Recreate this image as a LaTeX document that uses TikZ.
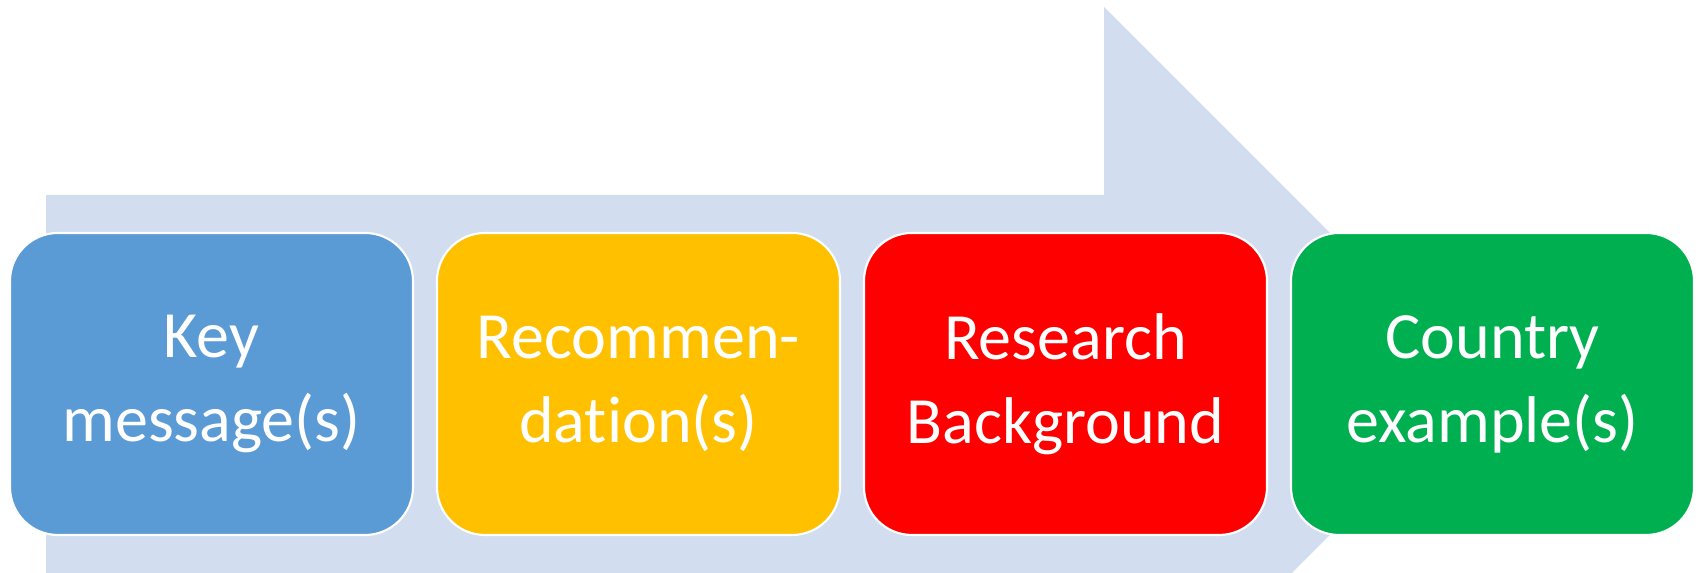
\documentclass[tikz,border=0pt]{standalone}
\usepackage{fontspec}
\setmainfont{Carlito}[Ligatures=NoCommon]
\usetikzlibrary{chains, positioning, backgrounds}

\definecolor{keyblue}{RGB}{91,155,213}
\definecolor{recyellow}{RGB}{255,192,0}
\definecolor{resred}{RGB}{255,0,0}
\definecolor{ctrgreen}{RGB}{0,176,80}
\definecolor{flowbg}{RGB}{210,222,239}

\begin{document}
\begin{tikzpicture}[ node distance = 10mm and 2.4mm,
	start chain = A going right, stage/.style = {rectangle, rounded corners=4.8mm, draw=white, line width=0.6pt, inner sep=0mm, outer sep=0mm, minimum width=40.3mm, minimum height=30.2mm, text width=37mm, align=center, text=white, font=\fontsize{18.8pt}{20.8pt}\selectfont, execute at begin node={\vspace*{1.1mm}}, on chain},
	FA/.style = {% Flow Arrow behind the stages
		fill=flowbg, draw=none}]

\useasboundingbox (0,0) rectangle (17,5.73);

\begin{scope}[every node/.style={stage}]
\node[fill=keyblue] at (2.115,1.89) {Key\\ message(s)};     % A-1
\node[fill=recyellow] {Recommen-\\ dation(s)};
\node[fill=resred] {Research\\ Background};
\node[fill=ctrgreen] {Country\\ example(s)};
\end{scope}
	% big arrow behind the stages
	\begin{scope}[on background layer]
	\fill[FA] (0.46,0) -- (0.46,3.78) -- (11.04,3.78) -- (11.04,5.66)
		-- (14.81,1.89) -- (12.92,0) -- cycle;
	\end{scope}

	\end{tikzpicture}
\end{document}
